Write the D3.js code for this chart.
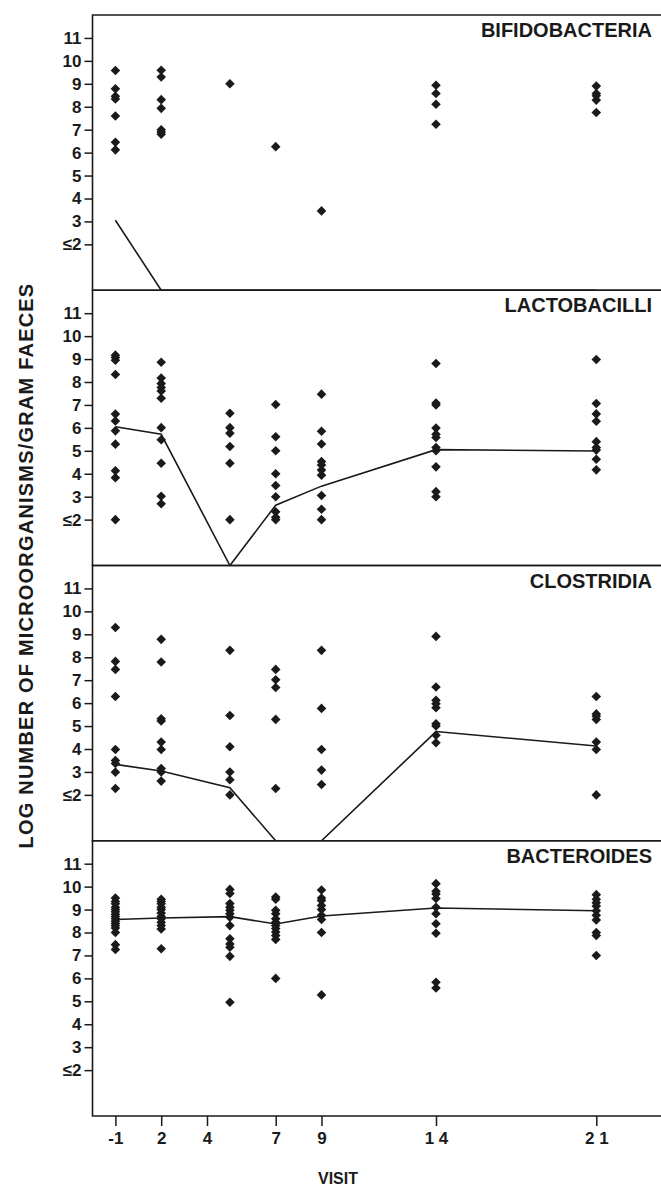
<!DOCTYPE html>
<html>
  <head>
    <meta charset="utf-8" />
    <script src="https://cdnjs.cloudflare.com/ajax/libs/d3/7.8.5/d3.min.js"></script>
    <style>
      body { margin: 0; background: #fff; }
      text { font-family: "Liberation Sans Narrow", "Arial Narrow", "Liberation Sans", sans-serif; font-weight: bold; fill: #1a1a1a; }
      .ylab { font-family: "Liberation Sans", Arial, sans-serif; }
    </style>
  </head>
  <body>
    <div id="master"></div>
    <script type="text/javascript">
// visit positions on the axis (visit -1 sits at 0)
var visits = [0, 2, 5, 7, 9, 14, 21];
var xTicks = [0, 2, 4, 7, 9, 14, 21];
var xTickLabels = ["-1", "2", "4", "7", "9", "1 4", "2 1"];
var yTicks = [2, 3, 4, 5, 6, 7, 8, 9, 10, 11];

var panelNames = ["BIFIDOBACTERIA", "LACTOBACILLI", "CLOSTRIDIA", "BACTEROIDES"];

var bifido = [
  [9.58, 8.78, 8.46, 8.34, 7.6, 6.45, 6.12],
  [9.59, 9.3, 8.31, 7.93, 7.0, 6.9, 6.8],
  [9.0],
  [6.26],
  [3.46],
  [8.94, 8.58, 8.11, 7.24],
  [8.9, 8.58, 8.48, 8.29, 7.75]
];
var bifidoMean = [3.05, 0, 0, 0, 0, 0, 0];

var lacto = [
  [9.17, 9.07, 8.95, 8.33, 6.6, 6.3, 5.87, 5.29, 4.13, 3.83, 2.0],
  [8.86, 8.17, 7.93, 7.76, 7.61, 7.29, 6.01, 5.48, 4.46, 3.02, 2.69],
  [6.64, 6.01, 5.77, 5.19, 4.46, 2.0],
  [7.02, 5.61, 5.0, 4.0, 3.49, 3.0, 2.34, 2.1, 2.0],
  [7.47, 5.85, 5.3, 4.53, 4.38, 4.16, 3.94, 3.05, 2.45, 2.0],
  [8.81, 7.08, 7.0, 5.99, 5.72, 5.58, 5.14, 5.0, 4.3, 3.22, 3.0],
  [8.98, 7.06, 6.61, 6.29, 5.4, 5.14, 5.03, 4.63, 4.17]
];
var lactoMean = [6.05, 5.72, 0, 2.63, 3.46, 5.05, 4.99];

var clost = [
  [9.3, 7.82, 7.47, 6.29, 3.98, 3.5, 3.37, 2.99, 2.28],
  [8.78, 7.79, 5.32, 5.22, 4.3, 3.98, 3.15, 3.0, 2.6],
  [8.3, 5.46, 4.1, 3.0, 2.66, 2.0],
  [7.47, 7.02, 6.68, 5.29, 2.28],
  [8.3, 5.77, 3.98, 3.08, 2.45],
  [8.91, 6.7, 6.12, 5.97, 5.8, 5.1, 5.0, 4.6, 4.27],
  [6.29, 5.53, 5.43, 5.29, 4.3, 3.98, 2.0]
];
var clostMean = [3.33, 3.04, 2.31, 0, 0, 4.76, 4.13];

var bact = [
  [9.5, 9.35, 9.25, 9.1, 9.0, 8.9, 8.8, 8.7, 8.6, 8.5, 8.4, 8.3, 8.2, 8.0, 7.47, 7.26],
  [9.45, 9.35, 9.25, 9.1, 9.0, 8.85, 8.7, 8.6, 8.45, 8.3, 8.15, 7.29],
  [9.88, 9.7, 9.26, 9.1, 8.97, 8.82, 8.67, 8.3, 7.73, 7.5, 7.36, 6.96, 4.96],
  [9.55, 9.45, 8.97, 8.82, 8.6, 8.45, 8.31, 8.17, 8.02, 7.87, 7.7, 6.0],
  [9.85, 9.5, 9.4, 9.18, 9.0, 8.75, 8.57, 8.0, 5.28],
  [10.13, 9.8, 9.68, 9.48, 9.1, 8.82, 8.38, 7.97, 5.83, 5.58],
  [9.65, 9.45, 9.3, 9.15, 8.95, 8.75, 8.55, 8.0, 7.87, 7.0]
];
var bactMean = [8.57, 8.63, 8.69, 8.37, 8.72, 9.07, 8.95];

var points = [bifido, lacto, clost, bact];
var means = [bifidoMean, lactoMean, clostMean, bactMean];

var width = 661, height = 1189;
var left = 92.5, right = 665, top0 = 15, panelH = 275.25;
var tickFont = "'Liberation Sans Narrow', 'Arial Narrow', 'Liberation Sans', sans-serif";

var svg = d3.select("#master").append("svg")
  .attr("width", width)
  .attr("height", height);

var x = d3.scaleLinear().domain([-1, 24]).range([left, right]);

var diamond = d3.symbol().type(d3.symbolSquare).size(46);
var line = d3.line()
  .x(function(d, i) { return x(visits[i]); })
  .y(function(d) { return d; });

panelNames.forEach(function(name, p) {
  var top = top0 + p * panelH, bottom = top + panelH;
  var y = d3.scaleLinear().domain([0, 12]).range([bottom, top]);
  var g = svg.append("g");

  g.append("clipPath").attr("id", "clip" + p)
    .append("rect")
      .attr("x", left).attr("y", top)
      .attr("width", right - left).attr("height", panelH);

  // y axis
  var ax = g.append("g")
    .attr("transform", "translate(" + left + ",0)")
    .call(d3.axisLeft(y).tickValues(yTicks).tickSize(8).tickPadding(3)
      .tickFormat(function(d) { return d === 2 ? "\u22642" : d; }));
  ax.select(".domain").remove();
  ax.selectAll("line").attr("stroke", "#1a1a1a").attr("stroke-width", 1.5);
  ax.selectAll("text").attr("font-size", 17).attr("fill", "#1a1a1a")
    .style("font-family", tickFont)
    .style("font-weight", "bold");

  // mean line
  g.append("path")
    .datum(means[p].map(function(v) { return y(v); }))
    .attr("clip-path", "url(#clip" + p + ")")
    .attr("fill", "none")
    .attr("stroke", "#1a1a1a")
    .attr("stroke-width", 1.6)
    .attr("d", line);

  // individual values
  points[p].forEach(function(vals, i) {
    g.selectAll(null)
      .data(vals)
      .enter()
      .append("path")
        .attr("d", diamond)
        .attr("fill", "#1a1a1a")
        .attr("transform", function(d) {
          return "translate(" + x(visits[i]) + "," + y(d) + ") rotate(45)"; });
  });

  // frame: top, left, bottom
  g.append("path")
    .attr("fill", "none")
    .attr("stroke", "#1a1a1a")
    .attr("stroke-width", 1.6)
    .attr("d", "M" + right + "," + top + "H" + left + "V" + bottom + "H" + right);

  g.append("text")
    .attr("x", 652)
    .attr("y", top + 22)
    .attr("text-anchor", "end")
    .attr("font-size", 20)
    .text(name);
});

// x axis under the last panel
var xBottom = top0 + 4 * panelH;
var xa = svg.append("g")
  .attr("transform", "translate(0," + xBottom + ")")
  .call(d3.axisBottom(x).tickValues(xTicks).tickSize(10).tickPadding(6)
    .tickFormat(function(d, i) { return xTickLabels[i]; }));
xa.select(".domain").remove();
xa.selectAll("line").attr("stroke", "#1a1a1a").attr("stroke-width", 1.5);
xa.selectAll("text").attr("font-size", 17).attr("fill", "#1a1a1a")
  .style("font-family", tickFont)
  .style("font-weight", "bold");

svg.append("text")
  .attr("x", 338)
  .attr("y", 1184)
  .attr("text-anchor", "middle")
  .attr("font-size", 16)
  .text("VISIT");

svg.append("text")
  .attr("class", "ylab")
  .attr("transform", "translate(33," + (top0 + 2 * panelH) + ") rotate(-90)")
  .attr("text-anchor", "middle")
  .attr("font-size", 20)
  .attr("letter-spacing", 1.2)
  .text("LOG NUMBER OF MICROORGANISMS/GRAM FAECES");
    </script>
  </body>
</html>
